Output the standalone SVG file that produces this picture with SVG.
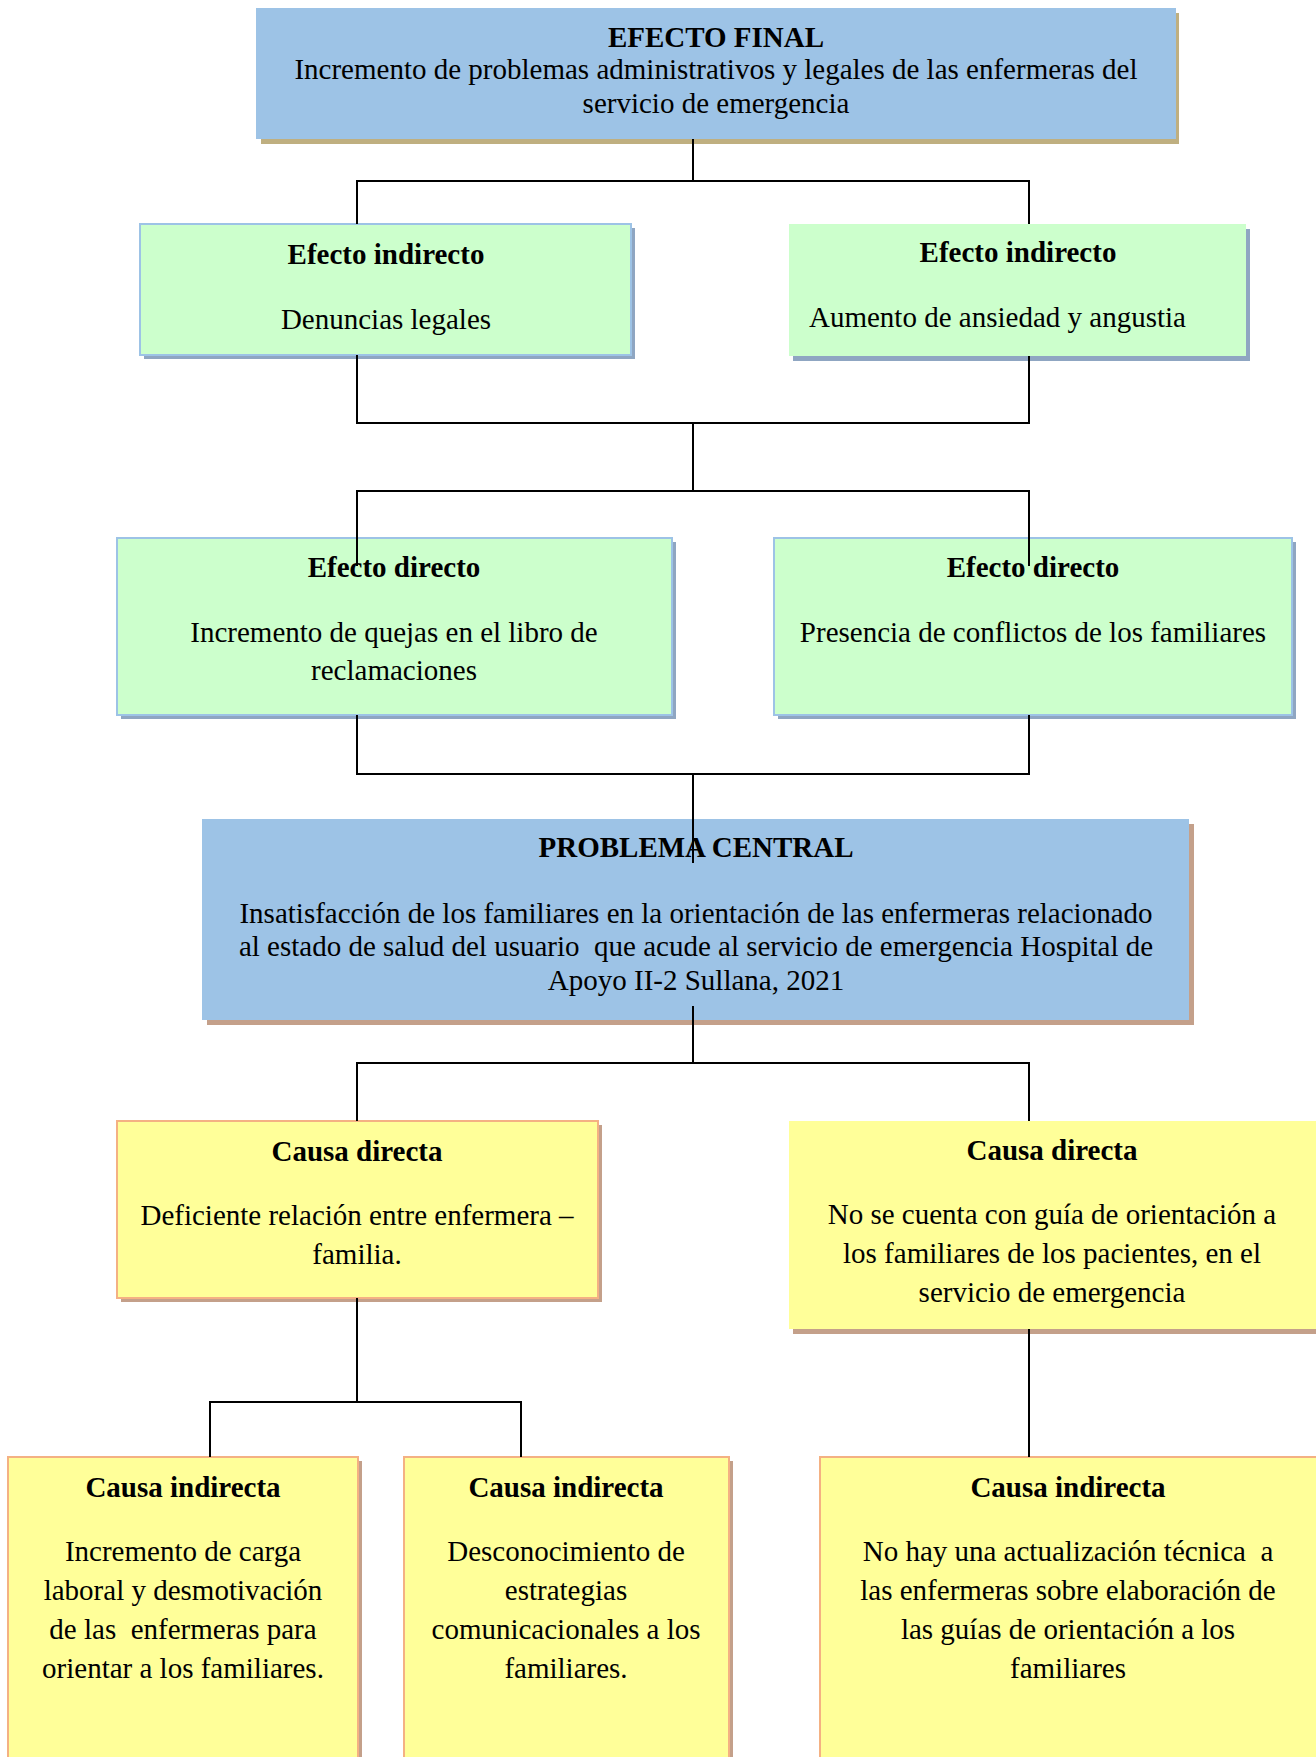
<svg xmlns="http://www.w3.org/2000/svg" width="1316" height="1757" viewBox="0 0 1316 1757">
<style>
text{font-family:"Liberation Serif","Times New Roman",serif;font-size:29px;fill:#000;text-anchor:middle;white-space:pre}
.b{font-weight:bold}
.blue{fill:#9DC3E6}
.green{fill:#CCFFCC;stroke:#9DC3E6;stroke-width:2}
.greenN{fill:#CCFFCC}
.yellow{fill:#FFFF99;stroke:#F4B183;stroke-width:2}
.yellowN{fill:#FFFF99}
.shTan{fill:#BFAF80}
.shBlue{fill:#8FA6C2}
.shBrown{fill:#C4A08A}
.conn line{stroke:#000;stroke-width:2}
</style>
<rect width="1316" height="1757" fill="#fff"/>

<g id="efecto-final">
<rect class="shTan" x="261" y="13" width="918" height="131"/>
<rect class="blue" x="256" y="8" width="920" height="131"/>
<text class="b" x="716" y="47">EFECTO FINAL</text>
<text x="716" y="79">Incremento de problemas administrativos y legales de las enfermeras del</text>
<text x="716" y="113">servicio de emergencia</text>
</g>

<g id="efecto-indirecto-1">
<rect class="shBlue" x="144" y="228" width="491" height="131"/>
<rect class="green" x="140" y="224" width="491" height="131"/>
<text class="b" x="386" y="264">Efecto indirecto</text>
<text x="386" y="329">Denuncias legales</text>
</g>

<g id="efecto-indirecto-2">
<rect class="shBlue" x="793" y="229" width="457" height="132"/>
<rect class="greenN" x="789" y="224" width="457" height="132"/>
<text class="b" x="1018" y="262">Efecto indirecto</text>
<text x="809" y="327" style="text-anchor:start">Aumento de ansiedad y angustia</text>
</g>

<g id="efecto-directo-1">
<rect class="shBlue" x="121" y="542" width="555" height="177"/>
<rect class="green" x="117" y="538" width="555" height="177"/>
<text class="b" x="394" y="577">Efecto directo</text>
<text x="394" y="642">Incremento de quejas en el libro de</text>
<text x="394" y="680">reclamaciones</text>
</g>

<g id="efecto-directo-2">
<rect class="shBlue" x="778" y="542" width="518" height="177"/>
<rect class="green" x="774" y="538" width="518" height="177"/>
<text class="b" x="1033" y="577">Efecto directo</text>
<text x="1033" y="642">Presencia de conflictos de los familiares</text>
</g>

<g id="problema-central">
<rect class="shBrown" x="207" y="824" width="987" height="201"/>
<rect class="blue" x="202" y="819" width="987" height="201"/>
<text class="b" x="696" y="857">PROBLEMA CENTRAL</text>
<text x="696" y="923">Insatisfacción de los familiares en la orientación de las enfermeras relacionado</text>
<text x="696" y="956" xml:space="preserve">al estado de salud del usuario  que acude al servicio de emergencia Hospital de</text>
<text x="696" y="990">Apoyo II-2 Sullana, 2021</text>
</g>

<g id="causa-directa-1">
<rect class="shBrown" x="121" y="1125" width="481" height="177"/>
<rect class="yellow" x="117" y="1121" width="481" height="177"/>
<text class="b" x="357" y="1161">Causa directa</text>
<text x="357" y="1225">Deficiente relación entre enfermera –</text>
<text x="357" y="1264">familia.</text>
</g>

<g id="causa-directa-2">
<rect class="shBrown" x="793" y="1126" width="523" height="208"/>
<rect class="yellowN" x="789" y="1121" width="527" height="208"/>
<text class="b" x="1052" y="1160">Causa directa</text>
<text x="1052" y="1224">No se cuenta con guía de orientación a</text>
<text x="1052" y="1263">los familiares de los pacientes, en el</text>
<text x="1052" y="1302">servicio de emergencia</text>
</g>

<g id="causa-indirecta-1">
<rect class="shBrown" x="12" y="1461" width="350" height="300"/>
<rect class="yellow" x="8" y="1457" width="350" height="310"/>
<text class="b" x="183" y="1497">Causa indirecta</text>
<text x="183" y="1561">Incremento de carga</text>
<text x="183" y="1600">laboral y desmotivación</text>
<text x="183" y="1639" xml:space="preserve">de las  enfermeras para</text>
<text x="183" y="1678">orientar a los familiares.</text>
</g>

<g id="causa-indirecta-2">
<rect class="shBrown" x="408" y="1461" width="325" height="300"/>
<rect class="yellow" x="404" y="1457" width="325" height="310"/>
<text class="b" x="566" y="1497">Causa indirecta</text>
<text x="566" y="1561">Desconocimiento de</text>
<text x="566" y="1600">estrategias</text>
<text x="566" y="1639">comunicacionales a los</text>
<text x="566" y="1678">familiares.</text>
</g>

<g id="causa-indirecta-3">
<rect class="yellow" x="820" y="1457" width="500" height="310"/>
<text class="b" x="1068" y="1497">Causa indirecta</text>
<text x="1068" y="1561" xml:space="preserve">No hay una actualización técnica  a</text>
<text x="1068" y="1600">las enfermeras sobre elaboración de</text>
<text x="1068" y="1639">las guías de orientación a los</text>
<text x="1068" y="1678">familiares</text>
</g>

<g id="connectors" class="conn">
<line x1="693" y1="139" x2="693" y2="181"/>
<line x1="356" y1="181" x2="1030" y2="181"/>
<line x1="357" y1="180" x2="357" y2="224"/>
<line x1="1029" y1="180" x2="1029" y2="224"/>
<line x1="357" y1="355" x2="357" y2="423"/>
<line x1="1029" y1="356" x2="1029" y2="423"/>
<line x1="356" y1="423" x2="1030" y2="423"/>
<line x1="693" y1="423" x2="693" y2="491"/>
<line x1="356" y1="491" x2="1030" y2="491"/>
<line x1="357" y1="490" x2="357" y2="566"/>
<line x1="1029" y1="490" x2="1029" y2="566"/>
<line x1="357" y1="715" x2="357" y2="774"/>
<line x1="1029" y1="715" x2="1029" y2="774"/>
<line x1="356" y1="774" x2="1030" y2="774"/>
<line x1="693" y1="773" x2="693" y2="863"/>
<line x1="693" y1="1006" x2="693" y2="1063"/>
<line x1="356" y1="1063" x2="1030" y2="1063"/>
<line x1="357" y1="1062" x2="357" y2="1121"/>
<line x1="1029" y1="1062" x2="1029" y2="1121"/>
<line x1="357" y1="1298" x2="357" y2="1402"/>
<line x1="209" y1="1402" x2="522" y2="1402"/>
<line x1="210" y1="1401" x2="210" y2="1457"/>
<line x1="521" y1="1401" x2="521" y2="1457"/>
<line x1="1029" y1="1329" x2="1029" y2="1457"/>
</g>
</svg>
